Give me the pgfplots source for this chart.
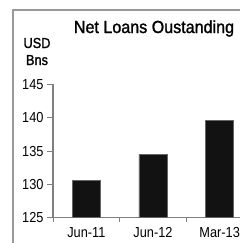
\documentclass[border=0pt]{standalone}
\usepackage{fontspec}
\setmainfont{Liberation Sans}[FakeStretch=0.88]
\newfontfamily\titlefont{Liberation Sans}[FakeStretch=0.92,FakeBold=1.3]
\newfontfamily\unitfont{Liberation Sans}[FakeStretch=0.88,FakeBold=1.3]
\usepackage{pgfplots}
\pgfplotsset{compat=1.18}
\begin{document}
\begin{tikzpicture}[x=1bp,y=1bp]
\useasboundingbox (0,0) rectangle (240,243);
\clip (0,0) rectangle (240,243);
\fill[white] (0,0) rectangle (240,243);
\draw[black!40, line width=1.5bp] (13,-5) -- (13,233) -- (250,233);
\node[anchor=base, inner sep=0pt, font=\titlefont\fontsize{17.5bp}{20bp}\selectfont] at (154,210) {Net Loans Oustanding};
\node[anchor=base, inner sep=0pt, font=\unitfont\fontsize{14.5bp}{17bp}\selectfont] at (37,195) {USD};
\node[anchor=base, inner sep=0pt, font=\unitfont\fontsize{14.5bp}{17bp}\selectfont] at (37,178) {Bns};
\begin{axis}[at={(53bp,25.3bp)}, anchor=south west, scale only axis,
  width=200bp, height=133.3bp,
  xmin=-0.5, xmax=2.5, ymin=125, ymax=145,
  axis x line=bottom, axis y line=left,
  axis line style={-, black!50, line width=1.2bp},
  ytick={125,130,135,140,145},
  xtick={0,1,2}, xticklabels={Jun-11,Jun-12,Mar-13},
  minor xtick={-0.5,0.5,1.5,2.5},
  tick align=outside, major tick length=6bp, minor tick length=4bp,
  major x tick style={draw=none},
  minor x tick style={black!50, line width=1bp},
  ytick style={black!50, line width=1bp},
  ticklabel style={font=\fontsize{14.5bp}{17bp}\selectfont},
  /pgf/number format/assume math mode=true,
  ybar, bar width=28bp,
]
\addplot[fill=black!93, draw=black!60, line width=0.6bp] coordinates {(0,130.6) (1,134.45) (2,139.6)};
\end{axis}
\end{tikzpicture}
\end{document}
